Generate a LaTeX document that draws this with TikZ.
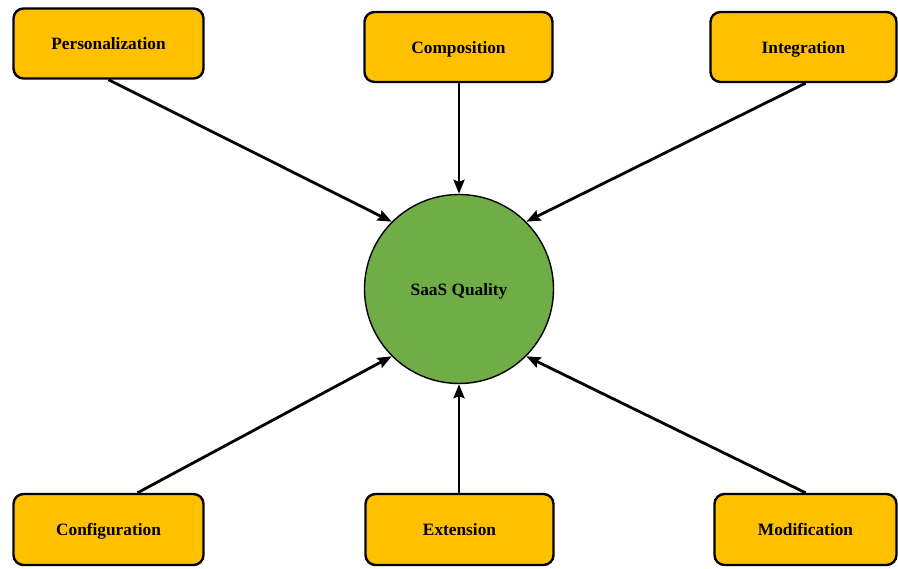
\documentclass[tikz,border=0pt]{standalone}
\usepackage{fontspec}
\setmainfont{Liberation Serif}
\usetikzlibrary{arrows.meta}
\definecolor{boxgold}{HTML}{FFC000}
\definecolor{hubgreen}{HTML}{70AD47}
\tikzset{
  factor/.style={draw=black, line width=2.4pt, fill=boxgold, rounded corners=10pt,
    minimum height=70pt, inner sep=0pt, text height=17pt, text depth=4pt,
    font=\fontsize{17.3}{20}\selectfont\bfseries},
  hub/.style={circle, draw=black, line width=1.4pt, fill=hubgreen,
    minimum size=189pt, inner sep=0pt, text height=17pt, text depth=4pt,
    font=\fontsize{17.3}{20}\selectfont\bfseries},
  link/.style={line width=2.8pt, -{Stealth[length=14pt,width=11pt,inset=2pt]}}
}
\begin{document}
\begin{tikzpicture}[x=1pt,y=-1pt]
  \useasboundingbox (0,0) rectangle (898,569);

  % central concept
  \node[hub] (q) at (459,289) {SaaS Quality};

  % influencing factors
  \node[factor, minimum width=190pt] (pers) at (108.5,43.5) {Personalization};
  \node[factor, minimum width=188pt] (comp) at (458.5,47) {Composition};
  \node[factor, minimum width=186pt] (integ) at (803.5,47) {Integration};
  \node[factor, minimum width=190pt, minimum height=71pt] (conf) at (108.5,529.5) {Configuration};
  \node[factor, minimum width=188pt, minimum height=71pt] (ext) at (459.5,529.5) {Extension};
  \node[factor, minimum width=182pt, minimum height=71pt] (modi) at (805.5,529.5) {Modification};

  % connectors into the hub
  \draw[link] (pers.south) -- (q.north west);
  \draw[link] (comp.south -| q.north) -- (q.north);
  \draw[link] ([xshift=2pt]integ.south) -- (q.north east);
  \draw[link] ([xshift=29pt]conf.north) -- (q.south west);
  \draw[link] (ext.north -| q.south) -- (q.south);
  \draw[link] (modi.north) -- (q.south east);
\end{tikzpicture}
\end{document}
